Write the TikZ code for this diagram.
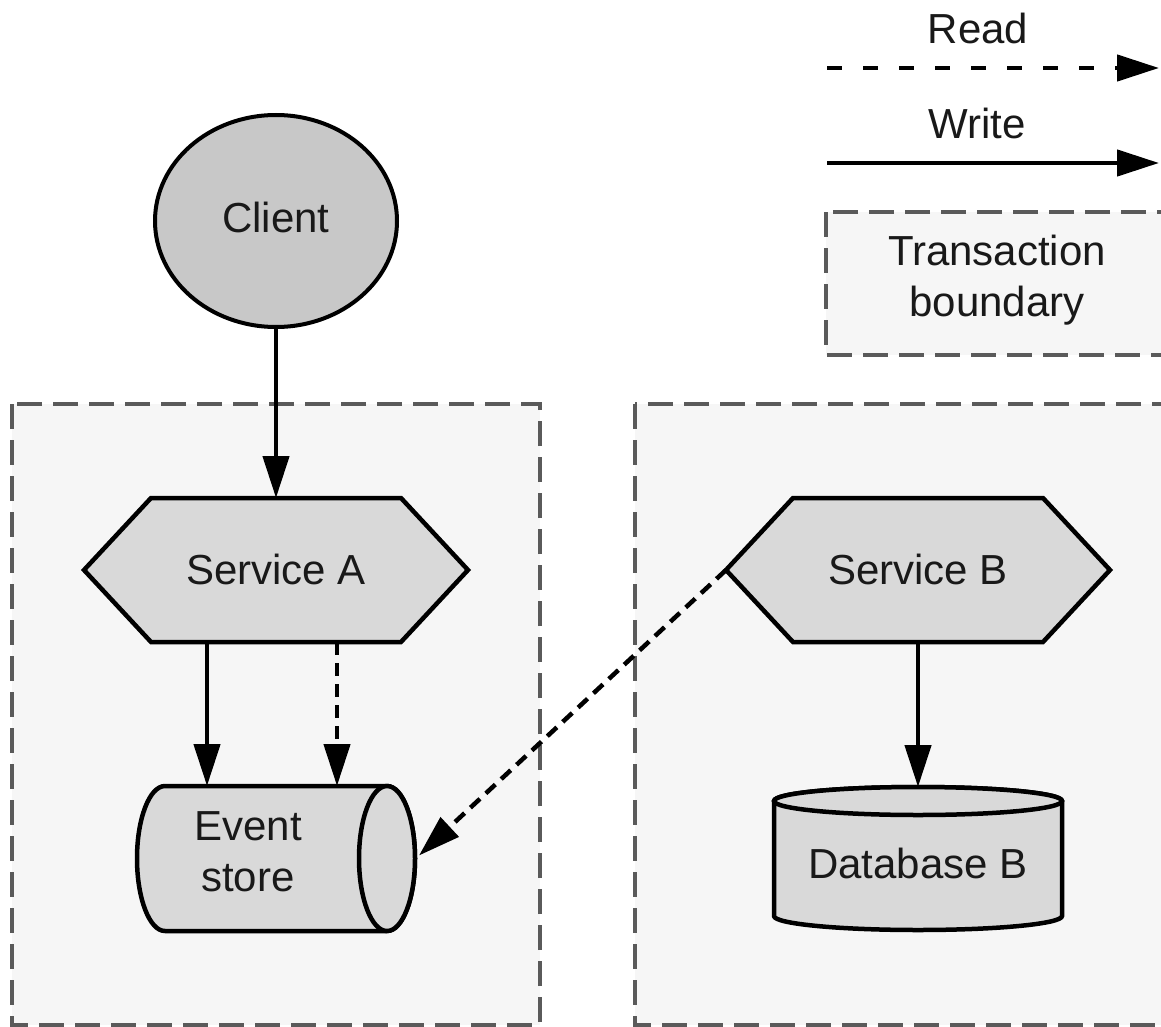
\documentclass[tikz,border=0pt]{standalone}
\usepackage{fontspec}
\setmainfont{Liberation Sans}
\usetikzlibrary{arrows.meta,shapes.geometric,backgrounds}

\definecolor{boxfill}{HTML}{F6F6F6}
\definecolor{boxline}{HTML}{5A5A5A}
\definecolor{shapefill}{HTML}{D9D9D9}
\definecolor{clientfill}{HTML}{C8C8C8}

\tikzset{
  txt/.style={font=\fontsize{42}{51}\selectfont, text=black!90, align=center, inner sep=0pt},
  boundary/.style={draw=boxline, fill=boxfill, line width=3.2pt, dash pattern=on 25pt off 11pt},
  shapeline/.style={draw=black, fill=shapefill, line width=4.5pt, line join=miter},
  anchorbox/.style={draw=none, inner sep=0pt, outer sep=0pt, rectangle},
  tip/.style={-{Triangle[length=42pt,width=26pt]}},
  writeflow/.style={tip, line width=4.5pt},
  readflow/.style={tip, line width=4.5pt, dash pattern=on 13pt off 8pt},
  readkey/.style={tip, line width=4.5pt, dash pattern=on 15pt off 21pt},
}

\begin{document}
\begin{tikzpicture}[x=1pt, y=1pt]
  \useasboundingbox (0,0) rectangle (1161,-1027);

  % transaction boundaries
  \begin{scope}[on background layer]
    \path[boundary] (12,-404) rectangle (540,-1025);
    \path[boundary] (635,-404) rectangle (1185,-1025);
    \path[boundary] (826,-212) rectangle (1185,-355);
  \end{scope}

  % legend
  \node[txt] (lread) at (978,-28) {Read};
  \coordinate (rd-s) at (827,-68);
  \coordinate (rd-e) at (1159,-68);
  \node[txt] (lwrite) at (977,-123) {Write};
  \coordinate (wr-s) at (827,-163);
  \coordinate (wr-e) at (1159,-163);
  \node[txt] (ltx) at (997,-280) {Transaction\\boundary};

  % client
  \node[ellipse, draw=black, fill=clientfill, line width=4pt,
        minimum width=242pt, minimum height=212pt, inner sep=0pt, outer sep=0pt]
        (cl) at (276,-221) {};
  \node[txt] (cl-t) at (276,-217) {Client};

  % services (hexagons)
  \node[anchorbox, minimum width=384pt, minimum height=144pt] (sa) at (276,-570) {};
  \node[txt] (sa-t) at (276,-569) {Service A};
  \node[anchorbox, minimum width=384pt, minimum height=144pt] (sb) at (918,-570) {};
  \node[txt] (sb-t) at (918,-569) {Service B};

  % stores (cylinders)
  \node[anchorbox, minimum width=278pt, minimum height=145pt] (es) at (276,-858.5) {};
  \node[txt] (es-t) at (248,-852) {Event\\store};
  \node[anchorbox, minimum width=288pt, minimum height=143pt] (db) at (918,-858.5) {};
  \node[txt] (db-t) at (918,-863) {Database B};

  \begin{scope}[on background layer]
    \foreach \s in {sa,sb}{
      \path[shapeline] (\s.west) -- ([xshift=67pt]\s.north west) -- ([xshift=-67pt]\s.north east)
        -- (\s.east) -- ([xshift=-67pt]\s.south east) -- ([xshift=67pt]\s.south west) -- cycle;
    }
    % horizontal event store cylinder
    \path[shapeline] (387,-786) -- (165,-786)
      arc[start angle=90, end angle=270, x radius=28, y radius=72.5]
      -- (387,-931)
      arc[start angle=270, end angle=450, x radius=28, y radius=72.5] -- cycle;
    \path[shapeline] (387,-858.5) ellipse[x radius=28, y radius=72.5];
    % upright database cylinder
    \path[shapeline] (774,-801) -- (774,-916)
      arc[start angle=180, end angle=360, x radius=144, y radius=14]
      -- (1062,-801)
      arc[start angle=0, end angle=180, x radius=144, y radius=14] -- cycle;
    \path[shapeline] (918,-801) ellipse[x radius=144, y radius=14];
  \end{scope}

  % flows
  \draw[readkey] (rd-s) -- (rd-e);
  \draw[writeflow] (wr-s) -- (wr-e);
  \draw[writeflow] (cl.south) -- (sa.north);
  \draw[writeflow] ([xshift=-69pt]sa.south) -- ([xshift=-69pt]sa.south |- es.north);
  \draw[readflow] ([xshift=61pt]sa.south) -- ([xshift=61pt]sa.south |- es.north);
  \draw[readflow] (sb.west) -- ([xshift=4pt,yshift=3pt]es.east);
  \draw[writeflow] (sb.south) -- (db.north);
\end{tikzpicture}
\end{document}
